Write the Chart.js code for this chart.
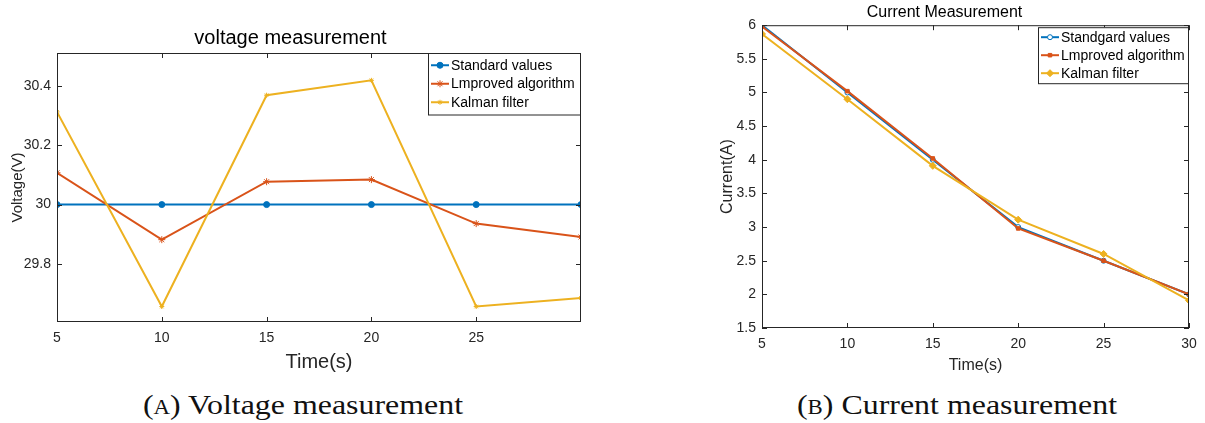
<!DOCTYPE html>
<html>
<head>
<meta charset="utf-8">
<script src="https://cdn.jsdelivr.net/npm/chart.js@4.4.0/dist/chart.umd.min.js"></script>
<style>
  body { margin: 0; background: #fff; width: 1205px; height: 423px; position: relative; overflow: hidden; }
  .box { position: absolute; }
  .cap { position: absolute; top: 389px; font-family: "Liberation Serif", serif; font-size: 28px; color: #111; white-space: nowrap; transform: translateX(-50%) scaleX(1.14); }
  .sc { font-variant: small-caps; }
</style>
</head>
<body>
<div class="box" style="left:0;top:0;width:600px;height:385px"><canvas id="voltChart"></canvas></div>
<div class="box" style="left:700px;top:0;width:505px;height:385px"><canvas id="currChart"></canvas></div>
<div class="cap" style="left:303px">(<span class="sc">a</span>) Voltage measurement</div>
<div class="cap" style="left:957px">(<span class="sc">b</span>) Current measurement</div>
<script>
// time axis shared by both plots
const timeValues = [5, 10, 15, 20, 25, 30];

// voltage (V)
const voltStandard = [30, 30, 30, 30, 30, 30];
const voltImproved = [30.107, 29.882, 30.077, 30.084, 29.936, 29.891];
const voltKalman = [30.312, 29.657, 30.368, 30.418, 29.657, 29.686];
const voltTicks = [29.8, 30, 30.2, 30.4];
const voltTimeTicks = [5, 10, 15, 20, 25];

// current (A)
const currStandard = [6, 5, 4, 3, 2.5, 2];
const currImproved = [5.98, 5.02, 4.02, 2.98, 2.5, 2.0];
const currKalman = [5.87, 4.9, 3.91, 3.11, 2.6, 1.91];
const currTicks = [1.5, 2, 2.5, 3, 3.5, 4, 4.5, 5, 5.5, 6];
const currTimeTicks = [5, 10, 15, 20, 25, 30];

const BLUE = "#0072BD", ORANGE = "#D95319", YELLOW = "#EDB120";
const INK = "#262626";
const FONT = "'Liberation Sans', Arial, sans-serif";

function pts(ys) {
  return timeValues.map((t, i) => ({ x: t, y: ys[i] }));
}

// matlab style box with inward ticks
const framePlugin = {
  id: "frame",
  afterDatasetsDraw(chart) {
    const ctx = chart.ctx, a = chart.chartArea;
    ctx.save();
    ctx.strokeStyle = INK;
    ctx.lineWidth = 1;
    ctx.strokeRect(a.left + 0.5, a.top + 0.5, a.right - a.left - 1, a.bottom - a.top - 1);
    ctx.beginPath();
    chart.scales.x.ticks.forEach(t => {
      const px = Math.round(chart.scales.x.getPixelForValue(t.value)) + 0.5;
      ctx.moveTo(px, a.bottom); ctx.lineTo(px, a.bottom - 5);
      ctx.moveTo(px, a.top); ctx.lineTo(px, a.top + 5);
    });
    chart.scales.y.ticks.forEach(t => {
      const py = Math.round(chart.scales.y.getPixelForValue(t.value)) + 0.5;
      ctx.moveTo(a.left, py); ctx.lineTo(a.left + 5, py);
      ctx.moveTo(a.right, py); ctx.lineTo(a.right - 5, py);
    });
    ctx.stroke();
    ctx.restore();
  }
};

// legend box in the top right corner of the plot
const boxLegend = {
  id: "boxLegend",
  afterDraw(chart, args, opts) {
    const ctx = chart.ctx, a = chart.chartArea;
    const w = opts.width, rowH = opts.rowH;
    const h = rowH * chart.data.datasets.length + opts.padY * 2;
    const x0 = a.right - w - 1, y0 = a.top + opts.top;
    ctx.save();
    ctx.fillStyle = "#fff";
    ctx.fillRect(x0, y0, w, h);
    ctx.strokeStyle = INK;
    ctx.lineWidth = 1;
    ctx.strokeRect(x0 + 0.5, y0 + 0.5, w, h);
    ctx.font = opts.fontSize + "px " + FONT;
    ctx.textBaseline = "middle";
    chart.data.datasets.forEach((ds, i) => {
      const y = y0 + opts.padY + rowH * (i + 0.5);
      ctx.strokeStyle = ds.borderColor;
      ctx.lineWidth = ds.borderWidth;
      ctx.beginPath();
      ctx.moveTo(x0 + 3, y); ctx.lineTo(x0 + 21, y);
      ctx.stroke();
      ctx.fillStyle = ds.pointBackgroundColor;
      ctx.strokeStyle = ds.borderColor;
      ctx.lineWidth = 1;
      Chart.helpers.drawPoint(ctx, { pointStyle: ds.pointStyle, radius: ds.pointRadius, rotation: 0, borderWidth: 1 }, x0 + 12, y);
      ctx.fillStyle = "#000";
      ctx.fillText(ds.label, x0 + 23, y + 0.5);
    });
    ctx.restore();
  }
};

// later series drawn on top, like matlab
function series(label, ys, color, style, r, fill, order) {
  return {
    label: label,
    data: pts(ys),
    borderColor: color,
    backgroundColor: color,
    pointBackgroundColor: fill,
    pointBorderColor: color,
    pointStyle: style,
    pointRadius: r,
    pointBorderWidth: 1,
    borderWidth: 2,
    tension: 0,
    order: order
  };
}

function makeChart(id, cfg) {
  return new Chart(document.getElementById(id), {
    type: "line",
    data: { datasets: cfg.datasets },
    options: {
      responsive: true,
      maintainAspectRatio: false,
      animation: false,
      layout: { padding: { left: 0, right: cfg.padRight, top: 0, bottom: 0 } },
      plugins: {
        legend: { display: false },
        tooltip: { enabled: false },
        title: {
          display: true,
          text: cfg.title,
          color: "#000",
          font: { family: FONT, size: cfg.titleSize, weight: "normal" },
          padding: cfg.titlePad
        },
        boxLegend: cfg.legend
      },
      scales: {
        x: {
          type: "linear",
          min: 5, max: 30,
          afterBuildTicks: s => { s.ticks = cfg.xTicks.map(v => ({ value: v })); },
          afterFit: s => { s.height = cfg.xHeight; },
          grid: { display: false, drawTicks: false },
          border: { display: false },
          ticks: { color: INK, padding: 8, font: { family: FONT, size: 14 }, callback: v => String(v) },
          title: { display: true, text: "Time(s)", color: INK, font: { family: FONT, size: cfg.xTitleSize }, padding: { top: 0, bottom: cfg.xTitlePad } }
        },
        y: {
          type: "linear",
          min: cfg.yMin, max: cfg.yMax,
          afterBuildTicks: s => { s.ticks = cfg.yTicks.map(v => ({ value: v })); },
          afterFit: s => { s.width = cfg.yWidth; },
          grid: { display: false, drawTicks: false },
          border: { display: false },
          ticks: { color: INK, padding: cfg.yTickPad, font: { family: FONT, size: 14 }, callback: v => String(Math.round(v * 10) / 10) },
          title: { display: true, text: cfg.yTitle, color: INK, font: { family: FONT, size: cfg.yTitleSize }, padding: { top: cfg.yTitlePad, bottom: 0 } }
        }
      }
    },
    plugins: [framePlugin, boxLegend]
  });
}

makeChart("voltChart", {
  title: "voltage measurement",
  titleSize: 20,
  titlePad: { top: 26, bottom: 3 },
  padRight: 19,
  xTicks: voltTimeTicks,
  xHeight: 63,
  xTitleSize: 20,
  xTitlePad: 11,
  yMin: 29.605, yMax: 30.51,
  yTicks: voltTicks,
  yWidth: 57,
  yTickPad: 6,
  yTitle: "Voltage(V)",
  yTitleSize: 15,
  yTitlePad: 9,
  legend: { width: 152, rowH: 18.5, padY: 3, top: 0, fontSize: 14 },
  datasets: [
    series("Standard values", voltStandard, BLUE, "circle", 3, BLUE, 3),
    series("Lmproved algorithm", voltImproved, ORANGE, "star", 3.5, ORANGE, 2),
    series("Kalman filter", voltKalman, YELLOW, "star", 2.5, YELLOW, 1)
  ]
});

makeChart("currChart", {
  title: "Current Measurement",
  titleSize: 16,
  titlePad: { top: 2.5, bottom: 3.5 },
  padRight: 16,
  xTicks: currTimeTicks,
  xHeight: 57,
  xTitleSize: 16,
  xTitlePad: 10,
  yMin: 1.5, yMax: 6,
  yTicks: currTicks,
  yWidth: 62,
  yTickPad: 6,
  yTitle: "Current(A)",
  yTitleSize: 16,
  yTitlePad: 18,
  legend: { width: 150, rowH: 18, padY: 1, top: 2, fontSize: 14 },
  datasets: [
    series("Standgard values", currStandard, BLUE, "circle", 2.5, "#fff", 3),
    series("Lmproved algorithm", currImproved, ORANGE, "rect", 2.5, ORANGE, 2),
    series("Kalman filter", currKalman, YELLOW, "rectRot", 3.5, YELLOW, 1)
  ]
});
</script>
</body>
</html>
